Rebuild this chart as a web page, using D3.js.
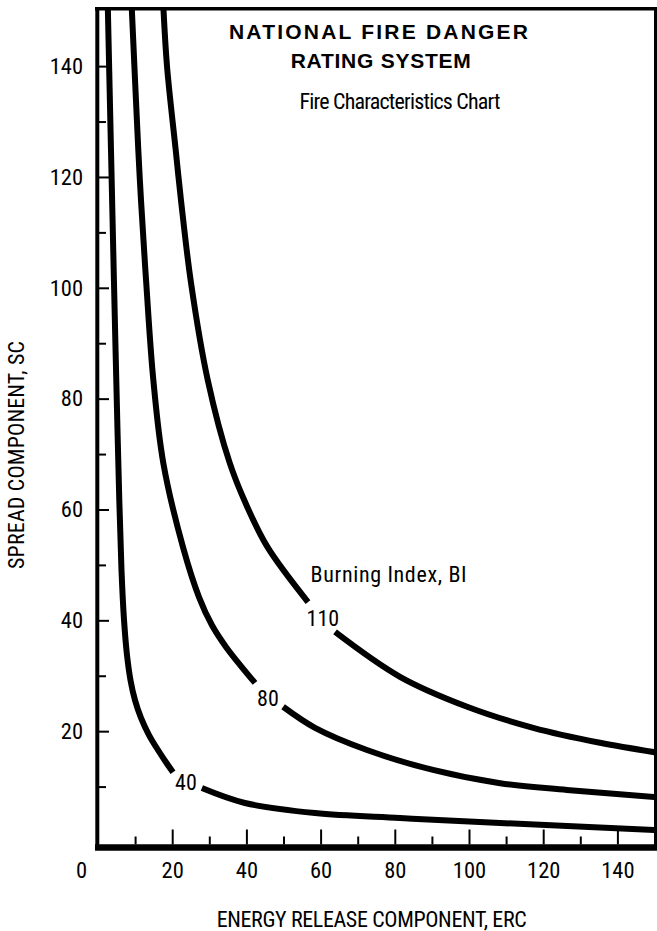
<!DOCTYPE html>
<html>
<head>
<meta charset="utf-8">
<script src="https://cdn.jsdelivr.net/npm/d3@7"></script>
<style>
  html, body { margin: 0; padding: 0; background: #fff; }
  svg { display: block; }
  .cond { font-family: "Liberation Sans Narrow", "Roboto Condensed", "DejaVu Sans Condensed", sans-serif; }
</style>
</head>
<body>
<svg id="chart" width="657" height="931"></svg>
<script>
// ---------- data ----------
const ercTicks = [0, 20, 40, 60, 80, 100, 120, 140];
const ercMinor = [10, 30, 50, 70, 90, 110, 130];
const scTicks = [20, 40, 60, 80, 100, 120, 140];
const scMinor = [10, 30, 50, 70, 90, 110, 130];

// Burning Index curves [ERC, SC]; each split in two around its label
const bi40Upper = [[2.6,152],[3.5,124.9],[4.31,100.9],[4.99,81.6],[5.74,61.7],[6.33,49.1],[7.01,40.1],[7.82,33.7],[8.76,29.2],[9.97,25.6],[11.59,22.4],[13.75,19.3],[16.17,16.6],[18.33,14.4],[20.22,12.6]];
const bi40Lower = [[28.0,9.74],[39.6,7.04],[58.5,5.23],[81.4,4.33],[108.4,3.43],[150,2.17]];
const bi80Upper = [[9.0,152],[10.86,124.9],[11.59,115.8],[13.0,100.9],[14.91,83.4],[17.6,68.4],[22.91,53.2],[27.22,44.2],[30.73,39.1],[34.5,35.2],[42.32,28.7]];
const bi80Lower = [[49.9,24.4],[58.5,20.6],[72.5,16.6],[90.3,13.0],[108.4,10.6],[126.4,9.4],[150,8.1]];
const bi110Upper = [[17.52,152],[18.6,140],[20.94,124.9],[22.37,115.8],[25.07,100.9],[29.57,83.4],[35.5,68.4],[40.0,60.8],[45.7,53.2],[56.6,43.3]];
const bi110Lower = [[63.9,37.9],[81.4,29.8],[99.5,24.4],[117.3,20.6],[135.3,17.9],[150,16.2]];

const curveLabels = ["40", "80", "110"];
const curveLabelPos = [[23.7,10.8],[45.8,26.0],[60.6,40.3]];

const titleLines = ["NATIONAL  FIRE DANGER", "RATING SYSTEM"];
const subtitle = "Fire Characteristics Chart";
const legendTitle = "Burning Index, BI";
const xTitle = "ENERGY RELEASE  COMPONENT, ERC";
const yTitle = "SPREAD COMPONENT, SC";

// ---------- drawing ----------
const svg = d3.select("#chart");
const x = d3.scaleLinear().domain([0, 150]).range([98, 654.5]);
const y = d3.scaleLinear().domain([0, 150]).range([842, 10.7]);

svg.append("defs").append("clipPath").attr("id", "plotclip")
  .append("rect").attr("x", 98).attr("y", 9).attr("width", 556).attr("height", 835);

// frame
const frame = svg.append("g").attr("stroke", "#000").attr("fill", "none");
frame.append("line").attr("x1", 95).attr("x2", 657).attr("y1", 8.7).attr("y2", 8.7).attr("stroke-width", 3.5);
frame.append("line").attr("x1", 97.3).attr("x2", 97.3).attr("y1", 7).attr("y2", 850).attr("stroke-width", 4);
frame.append("line").attr("x1", 655.5).attr("x2", 655.5).attr("y1", 7).attr("y2", 850).attr("stroke-width", 3);
frame.append("line").attr("x1", 95).attr("x2", 657).attr("y1", 847.5).attr("y2", 847.5).attr("stroke-width", 6.5);

// x axis
const gx = svg.append("g").attr("transform", "translate(0,844.5)")
  .call(d3.axisBottom(x).tickValues(ercTicks).tickSize(-15).tickPadding(17.5).tickFormat(d3.format("d")));
const gxm = svg.append("g").attr("transform", "translate(0,844.5)")
  .call(d3.axisBottom(x).tickValues(ercMinor).tickSize(-8).tickFormat(""));
// y axis
const gy = svg.append("g").attr("transform", "translate(98,0)")
  .call(d3.axisLeft(y).tickValues(scTicks).tickSize(-11).tickPadding(15).tickFormat(d3.format("d")));
const gym = svg.append("g").attr("transform", "translate(98,0)")
  .call(d3.axisLeft(y).tickValues(scMinor).tickSize(-8).tickFormat(""));

[gx, gxm, gy, gym].forEach(g => {
  g.select(".domain").remove();
  g.selectAll(".tick line").attr("stroke", "#000").attr("stroke-width", 2);
  g.selectAll("text").attr("class", "cond").attr("font-size", 22.5).attr("fill", "#000").attr("font-family", null);
});
gx.selectAll(".tick").filter(d => d === 0).select("line").remove();
gx.selectAll(".tick").filter(d => d === 0).select("text").attr("x", -17);

// curves
const line = d3.line().x(d => x(d[0])).y(d => y(d[1])).curve(d3.curveCatmullRom.alpha(0.5));
const curves = [bi40Upper, bi40Lower, bi80Upper, bi80Lower, bi110Upper, bi110Lower];
svg.append("g").attr("clip-path", "url(#plotclip)")
  .selectAll("path").data(curves).join("path")
  .attr("d", line).attr("fill", "none").attr("stroke", "#000")
  .attr("stroke-width", 6).attr("stroke-linecap", "butt");

// curve labels
svg.append("g").selectAll("text").data(curveLabels).join("text")
  .attr("class", "cond").attr("font-size", 22).attr("text-anchor", "middle")
  .attr("x", (d, i) => x(curveLabelPos[i][0])).attr("y", (d, i) => y(curveLabelPos[i][1]))
  .attr("dy", "0.35em").text(d => d);

svg.append("text").attr("class", "cond").attr("font-size", 22)
  .attr("x", x(57.3)).attr("y", y(47.0)).attr("textLength", 156).attr("lengthAdjust", "spacing")
  .text(legendTitle);

// titles
svg.selectAll("text.title").data(titleLines).join("text").attr("class", "title")
  .attr("font-family", "'Liberation Sans', Arial, Helvetica, sans-serif").attr("font-weight", "bold")
  .attr("font-size", 21).attr("text-anchor", "middle")
  .attr("x", (d, i) => i === 0 ? 378.5 : 380.7).attr("y", (d, i) => i === 0 ? 38.5 : 68)
  .attr("textLength", (d, i) => i === 0 ? 299 : 180).attr("lengthAdjust", "spacing")
  .text(d => d);

svg.append("text").attr("class", "cond").attr("font-size", 22).attr("text-anchor", "middle")
  .attr("x", 400).attr("y", 109).attr("textLength", 201).attr("lengthAdjust", "spacing")
  .text(subtitle);

svg.append("text").attr("class", "cond").attr("font-size", 22).attr("text-anchor", "middle")
  .attr("x", 371.7).attr("y", 926.5).attr("textLength", 310).attr("lengthAdjust", "spacing")
  .text(xTitle);

svg.append("text").attr("class", "cond").attr("font-size", 22).attr("text-anchor", "middle")
  .attr("transform", "translate(23.5,455) rotate(-90)").attr("textLength", 228).attr("lengthAdjust", "spacing")
  .text(yTitle);
</script>
</body>
</html>
